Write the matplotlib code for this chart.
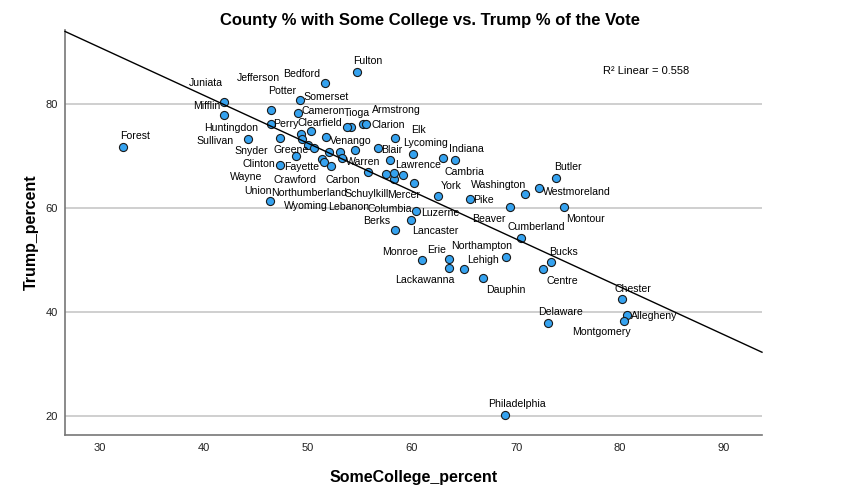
import matplotlib
matplotlib.use("Agg")
import matplotlib.pyplot as plt
import numpy as np

plt.rcParams['font.family'] = ['Liberation Sans', 'DejaVu Sans']

# county data
counties = ["Forest", "Juniata", "Huntingdon", "Jefferson", "Potter", "Cameron", "Bedford",
            "Fulton", "Perry", "Clearfield", "Sullivan", "Snyder", "Tioga", "Armstrong",
            "Clarion", "Elk", "Wyoming", "Wayne", "Northumberland", "Lebanon", "Warren",
            "Crawford", "Fayette", "Carbon", "Greene", "Clinton", "Venango", "Blair",
            "Lawrence", "Lycoming", "Indiana", "Cambria", "Schuylkill", "Mercer", "Columbia",
            "Mifflin", "Somerset", "York", "Pike", "Washington", "Westmoreland", "Butler",
            "Beaver", "Montour", "Union", "Luzerne", "Lancaster", "Berks", "Cumberland",
            "Monroe", "Erie", "Lackawanna", "Lehigh", "Northampton", "Dauphin", "Bucks",
            "Centre", "Chester", "Allegheny", "Montgomery", "Delaware", "Philadelphia",
            "Adams", "Bradford", "Franklin", "McKean", "Susquehanna"]
some_college = [32.2, 41.9, 41.9, 46.4, 49.2, 49.0, 51.6,
                54.7, 46.4, 50.3, 44.2, 47.3, 54.1, 55.3,
                55.6, 58.4, 50.0, 50.6, 52.0, 53.1, 53.3,
                51.3, 51.5, 52.2, 48.8, 47.3, 54.5, 56.7,
                57.9, 60.1, 63.0, 64.1, 55.8, 59.1, 58.3,
                58.3, 60.2, 62.5, 65.6, 70.9, 72.2, 73.8,
                69.4, 74.6, 46.3, 60.4, 59.9, 58.4, 70.5,
                61.0, 63.6, 63.6, 65.0, 69.0, 66.8, 73.4,
                72.6, 80.2, 80.7, 80.4, 73.1, 68.9,
                49.3, 49.4, 51.7, 53.7, 57.5]
trump = [71.7, 80.4, 77.9, 78.8, 80.8, 78.3, 84.0,
         86.1, 76.2, 74.7, 73.2, 73.4, 75.5, 76.1,
         76.1, 73.4, 72.0, 71.5, 70.7, 70.7, 69.6,
         69.4, 68.8, 68.1, 70.0, 68.2, 71.2, 71.5,
         69.2, 70.4, 69.6, 69.3, 67.0, 66.4, 65.6,
         66.7, 64.8, 62.3, 61.8, 62.6, 63.9, 65.8,
         60.1, 60.1, 61.4, 59.4, 57.6, 55.8, 54.2,
         50.0, 50.2, 48.4, 48.2, 50.5, 46.6, 49.7,
         48.2, 42.4, 39.5, 38.3, 37.8, 20.2,
         74.2, 73.2, 73.6, 75.5, 66.6]
r_squared = 0.558

# label offsets from each point, in pixels (right, down); unlisted = no label
label_offsets = {
    "Forest": (12, -11), "Juniata": (-18, -19), "Mifflin": (-188, -67), "Huntingdon": (7, 13),
    "Jefferson": (-12, -32), "Bedford": (-23, -9), "Potter": (-18, -9), "Fulton": (11, -11),
    "Somerset": (-88, -86), "Cameron": (26, -2), "Tioga": (6, -14), "Armstrong": (33, -14),
    "Perry": (15, 0), "Clearfield": (9, -8), "Clarion": (22, 1), "Elk": (23, -8),
    "Venango": (-4, -9), "Lycoming": (12, -11), "Sullivan": (-33, 2), "Snyder": (-29, 13),
    "Greene": (-4, -6), "Blair": (14, 2), "Indiana": (23, -9), "Clinton": (-21, -1),
    "Fayette": (-22, 5), "Warren": (21, 4), "Lawrence": (28, 5), "Cambria": (10, 12),
    "Wayne": (-68, 29), "Crawford": (-27, 21), "Carbon": (12, 14), "York": (13, -10),
    "Washington": (-27, -9), "Union": (-12, -10), "Northumberland": (-20, 41),
    "Schuylkill": (-2, 22), "Mercer": (1, 20), "Pike": (13, 1), "Butler": (12, -11),
    "Westmoreland": (38, 4), "Wyoming": (-2, 61), "Lebanon": (8, 55), "Columbia": (-5, 30),
    "Luzerne": (24, 2), "Montour": (22, 12), "Beaver": (-21, 12), "Berks": (-19, -9),
    "Cumberland": (15, -11), "Lancaster": (24, 11), "Monroe": (-22, -8), "Erie": (-13, -9),
    "Northampton": (-24, -11), "Bucks": (12, -10), "Lehigh": (19, -9),
    "Lackawanna": (-25, 12), "Centre": (19, 12), "Dauphin": (23, 12), "Chester": (11, -10),
    "Delaware": (12, -11), "Allegheny": (27, 1), "Montgomery": (-23, 11),
    "Philadelphia": (12, -11),
}

W, H = 848, 498
fig = plt.figure(figsize=(W / 100, H / 100), dpi=100)
ax = fig.add_axes([65 / W, 1 - 435 / H, (762 - 65) / W, (435 - 30) / H])

x = np.array(some_college)
y = np.array(trump)

xmin, xmax = 26.63, 93.65
ax.set_xlim(xmin, xmax)
ax.set_ylim(16.35, 94.2)

ax.set_yticks([20, 40, 60, 80])
ax.set_xticks([30, 40, 50, 60, 70, 80, 90])
ax.yaxis.grid(True, color='#cccccc', lw=1.3, zorder=0)
ax.set_axisbelow(True)
ax.tick_params(length=0, labelsize=8, colors='#222222')
ax.tick_params(axis='y', pad=5)
ax.tick_params(axis='x', pad=6)

for s in ['top', 'right']:
    ax.spines[s].set_visible(False)
for s in ['left', 'bottom']:
    ax.spines[s].set_color('#777777')
    ax.spines[s].set_linewidth(1.2)

ax.scatter(x, y, s=34, c='#35a2ef', edgecolors='#1a1a1a', linewidths=0.8, zorder=2)

# linear fit
b, a = np.polyfit(x, y, 1)
xx = np.array([xmin, xmax])
ax.plot(xx, a + b * xx, color='black', lw=1.0, zorder=3, clip_on=False)

k = 0.72  # px -> pt
for name, xi, yi in zip(counties, x, y):
    if name in label_offsets:
        dx, dy = label_offsets[name]
        ax.annotate(name, (xi, yi), xytext=(dx * k, -dy * k), textcoords='offset points',
                    ha='center', va='center', fontsize=7.6, color='black', zorder=4)

ax.text(603 / W, 1 - 71 / H, "R\u00b2 Linear = %.3f" % r_squared, transform=fig.transFigure,
        ha='left', va='center', fontsize=8)

fig.text(430 / W, 1 - 20 / H, "County % with Some College vs. Trump % of the Vote",
         ha='center', va='center', fontsize=12, fontweight='bold')
ax.set_xlabel("SomeCollege_percent", fontsize=11.5, fontweight='bold', labelpad=12)
ax.set_ylabel("Trump_percent", fontsize=11.5, fontweight='bold', labelpad=5)

fig.savefig("out.png", dpi=100)
